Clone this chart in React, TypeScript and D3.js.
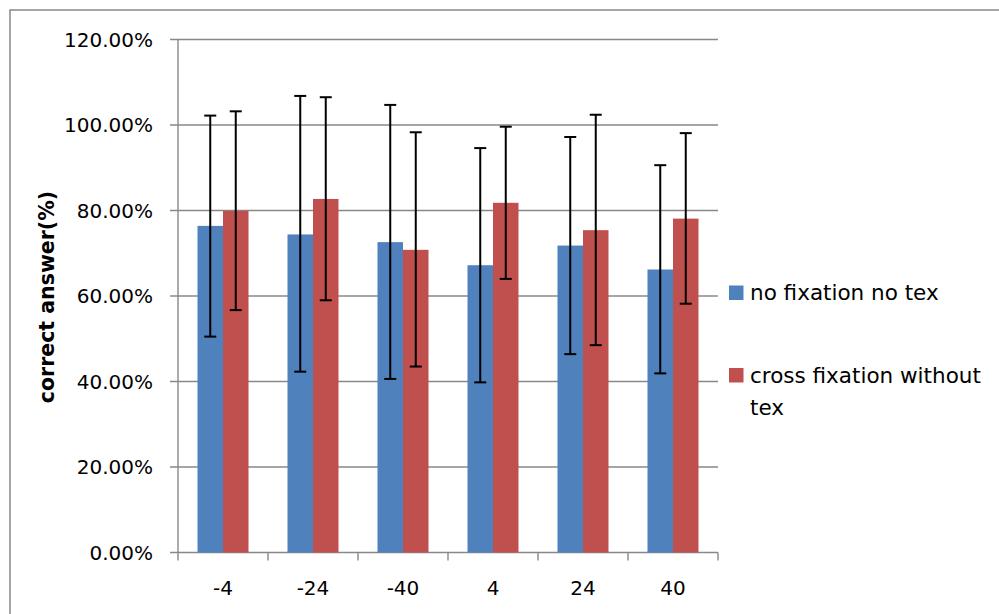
import React from "react";
import * as d3 from "d3";

const categories = ["-4", "-24", "-40", "4", "24", "40"];
const seriesNames = ["no fixation no tex", "cross fixation without tex"];
const seriesColors = ["#4F81BD", "#C0504D"];
const blueValues = [0.764, 0.744, 0.726, 0.672, 0.718, 0.662];
const redValues = [0.799, 0.827, 0.708, 0.818, 0.754, 0.781];
const blueErrHigh = [1.022, 1.068, 1.047, 0.946, 0.972, 0.906];
const blueErrLow = [0.505, 0.423, 0.406, 0.398, 0.464, 0.419];
const redErrHigh = [1.032, 1.065, 0.983, 0.996, 1.024, 0.981];
const redErrLow = [0.567, 0.59, 0.435, 0.64, 0.485, 0.582];
const yTicks = [0, 0.2, 0.4, 0.6, 0.8, 1.0, 1.2];

const W = 999;
const H = 614;
const left = 178;
const right = 718;
const top = 39.5;
const bottom = 552.5;
const FONT = "'DejaVu Sans', sans-serif";

export default function App() {
  const y = d3.scaleLinear().domain([0, 1.2]).range([bottom, top]);
  const x0 = d3
    .scaleBand<string>()
    .domain(categories)
    .range([left, right])
    .paddingInner(0.4333)
    .paddingOuter(0.21667);
  const x1 = d3.scaleBand<number>().domain([0, 1]).range([0, x0.bandwidth()]);
  const step = x0.step();
  const series = [
    { values: blueValues, hi: blueErrHigh, lo: blueErrLow },
    { values: redValues, hi: redErrHigh, lo: redErrLow },
  ];
  const grid = "#888888";
  const fmt = (v: number) => (v * 100).toFixed(2) + "%";

  return (
    <svg width={W} height={H} style={{ position: "absolute", left: 0, top: 0 }}>
      <rect x={0} y={0} width={W} height={H} fill="#fff" />
      <rect x={10} y={10} width={W + 20} height={H + 20} fill="none" stroke="#888" strokeWidth={1.5} />
      {yTicks.map((t) => (
        <g key={t}>
          <line x1={left - 8} x2={right} y1={y(t)} y2={y(t)} stroke={grid} strokeWidth={1.4} />
          <text
            x={153}
            y={y(t)}
            dy="0.35em"
            textAnchor="end"
            fontFamily={FONT}
            fontSize={20}
            fill="#000"
          >
            {fmt(t)}
          </text>
        </g>
      ))}
      <line x1={left} x2={left} y1={top} y2={bottom} stroke={grid} strokeWidth={1.4} />
      {d3.range(categories.length + 1).map((i) => (
        <line
          key={i}
          x1={left + i * step}
          x2={left + i * step}
          y1={bottom}
          y2={bottom + 8}
          stroke={grid}
          strokeWidth={1.4}
        />
      ))}
      {categories.map((c, ci) => (
        <g key={c}>
          {series.map((s, si) => {
            const bx = (x0(c) as number) + (x1(si) as number);
            const bw = x1.bandwidth();
            return (
              <rect
                key={si}
                x={bx}
                y={y(s.values[ci])}
                width={bw}
                height={bottom - y(s.values[ci])}
                fill={seriesColors[si]}
              />
            );
          })}
          {series.map((s, si) => {
            const cx = (x0(c) as number) + (x1(si) as number) + x1.bandwidth() / 2;
            return (
              <g key={"e" + si} stroke="#000" strokeWidth={2}>
                <line x1={cx} x2={cx} y1={y(s.hi[ci])} y2={y(s.lo[ci])} />
                <line x1={cx - 6} x2={cx + 6} y1={y(s.hi[ci])} y2={y(s.hi[ci])} />
                <line x1={cx - 6} x2={cx + 6} y1={y(s.lo[ci])} y2={y(s.lo[ci])} />
              </g>
            );
          })}
          <text
            x={(x0(c) as number) + x0.bandwidth() / 2}
            y={588}
            dy="0.35em"
            textAnchor="middle"
            fontFamily={FONT}
            fontSize={20}
            fill="#000"
          >
            {c}
          </text>
        </g>
      ))}
      <text
        transform="translate(47,297) rotate(-90)"
        textAnchor="middle"
        dy="0.35em"
        fontFamily={FONT}
        fontWeight="bold"
        fontSize={20.5}
        fill="#000"
      >
        correct answer(%)
      </text>
      <g fontFamily={FONT} fontSize={21.5} fill="#000">
        <rect x={729} y={285.5} width={14.5} height={14.5} fill={seriesColors[0]} />
        <text x={750} y={292.5} dy="0.35em">
          {seriesNames[0]}
        </text>
        <rect x={729} y={368} width={14.5} height={14.5} fill={seriesColors[1]} />
        <text x={750} y={375} dy="0.35em">
          cross fixation without
        </text>
        <text x={750} y={407} dy="0.35em">
          tex
        </text>
      </g>
    </svg>
  );
}
